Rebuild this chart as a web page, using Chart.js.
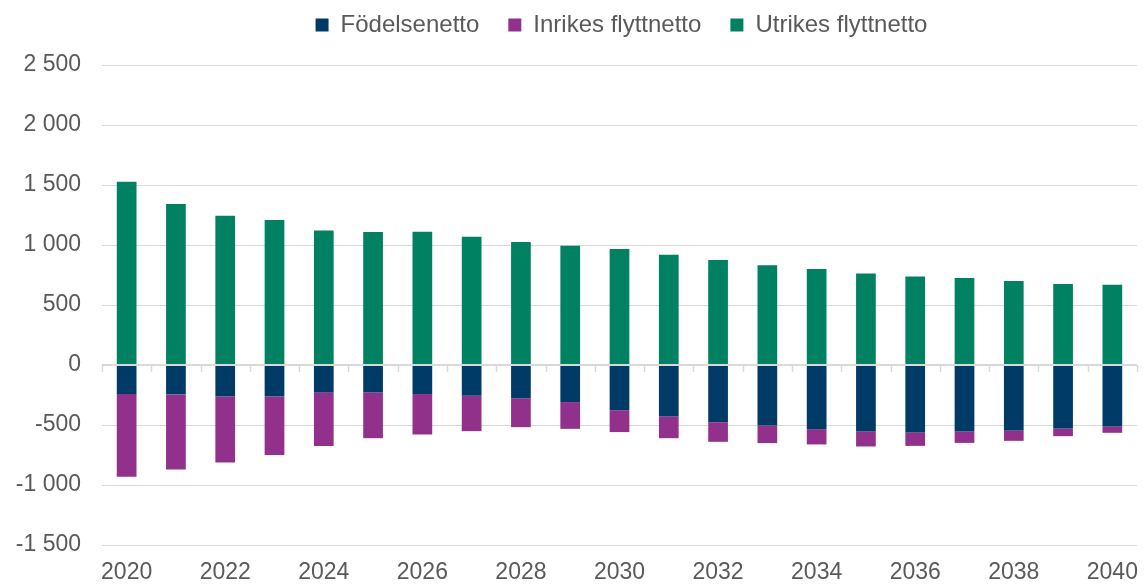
<!DOCTYPE html>
<html>
<head>
<meta charset="utf-8">
<script src="https://cdn.jsdelivr.net/npm/chart.js@4/dist/chart.umd.min.js"></script>
<style>
  html, body { margin: 0; padding: 0; background: #ffffff; }
  #wrap { width: 1145px; height: 586px; position: relative; }
</style>
</head>
<body>
<div id="wrap"><canvas id="c" width="1145" height="586"></canvas></div>
<script>
const years = ['2020','2021','2022','2023','2024','2025','2026','2027','2028','2029','2030',
               '2031','2032','2033','2034','2035','2036','2037','2038','2039','2040'];
const fodelsenetto = [-242,-245,-262,-262,-228,-228,-242,-256,-278,-309,-376,-429,-476,-504,-535,-554,-562,-554,-545,-529,-512];
const inrikesFlyttnetto = [-690,-626,-550,-487,-446,-382,-337,-295,-240,-223,-183,-181,-164,-147,-127,-125,-112,-95,-87,-64,-53];
const utrikesFlyttnetto = [1528,1342,1244,1208,1121,1108,1111,1069,1024,994,966,918,874,832,801,763,738,724,699,676,668];
const seriesNames = ['Födelsenetto','Inrikes flyttnetto','Utrikes flyttnetto'];
const yTicks = { min: -1500, max: 2500, step: 500 };

const FONT = "'Liberation Sans', Arial, sans-serif";
const TEXT = '#595959';
const GRID = '#d9d9d9';

function fmt(v) {
  const s = Math.abs(v).toString().replace(/\B(?=(\d{3})+(?!\d))/g, ' ');
  return (v < 0 ? '-' : '') + s;
}

const legendTweak = {
  id: 'legendTweak',
  beforeUpdate(chart) {
    const lg = chart.legend;
    if (lg && !lg._patched) {
      const f = lg.fit;
      lg.fit = function() { f.call(this); this.height += 18; };
      lg._patched = true;
    }
  },
  afterLayout(chart) {
    const lg = chart.legend;
    if (lg) { lg.left += 53; lg.right += 53; }
  }
};

const zeroLinePlugin = {
  id: 'zeroLine',
  afterDatasetsDraw(chart) {
    const {ctx, chartArea, scales} = chart;
    const y0 = scales.y.getPixelForValue(0);
    const xs = scales.x;
    const n = years.length;
    ctx.save();
    ctx.strokeStyle = GRID;
    ctx.lineWidth = 2;
    ctx.beginPath();
    ctx.moveTo(chartArea.left, y0);
    ctx.lineTo(chartArea.right, y0);
    ctx.stroke();
    ctx.lineWidth = 1.5;
    ctx.beginPath();
    for (let i = 0; i <= n; i++) {
      let bx;
      if (i === 0) bx = chartArea.left;
      else if (i === n) bx = chartArea.right;
      else bx = (xs.getPixelForValue(i - 1) + xs.getPixelForValue(i)) / 2;
      bx = Math.round(bx) + 0.5;
      ctx.moveTo(bx, y0);
      ctx.lineTo(bx, y0 + 7);
    }
    ctx.stroke();
    ctx.restore();
  }
};

new Chart(document.getElementById('c'), {
  type: 'bar',
  data: {
    labels: years,
    datasets: [
      { label: seriesNames[0], data: fodelsenetto, backgroundColor: '#003a67' },
      { label: seriesNames[1], data: inrikesFlyttnetto, backgroundColor: '#92318b' },
      { label: seriesNames[2], data: utrikesFlyttnetto, backgroundColor: '#008262' }
    ]
  },
  options: {
    responsive: false,
    animation: false,
    devicePixelRatio: 1,
    layout: { padding: { top: -16, right: 8, bottom: 1, left: 0 } },
    datasets: { bar: { barPercentage: 0.4, categoryPercentage: 1.0 } },
    plugins: {
      legend: {
        position: 'top',
        align: 'center',
        labels: {
          boxWidth: 13, boxHeight: 13, padding: 29,
          color: TEXT,
          font: { family: FONT, size: 24 }
        }
      },
      tooltip: { enabled: false }
    },
    scales: {
      x: {
        stacked: true,
        grid: { display: false, drawTicks: false },
        border: { display: false },
        afterFit(scale) { scale.height = 40; scale.paddingLeft = 0; scale.paddingRight = 0; },
        ticks: {
          autoSkip: false, maxRotation: 0, minRotation: 0, padding: 14,
          color: TEXT, font: { family: FONT, size: 23 },
          callback: function(val, idx) { return idx % 2 === 0 ? this.getLabelForValue(val) : ''; }
        }
      },
      y: {
        stacked: true,
        min: yTicks.min, max: yTicks.max,
        grid: { color: GRID, lineWidth: 1, drawTicks: false },
        border: { display: false },
        afterFit(scale) { scale.width = 102; },
        ticks: {
          stepSize: yTicks.step, padding: 21,
          color: TEXT, font: { family: FONT, size: 23 },
          callback: (v) => fmt(v)
        }
      }
    }
  },
  plugins: [legendTweak, zeroLinePlugin]
});
</script>
</body>
</html>
